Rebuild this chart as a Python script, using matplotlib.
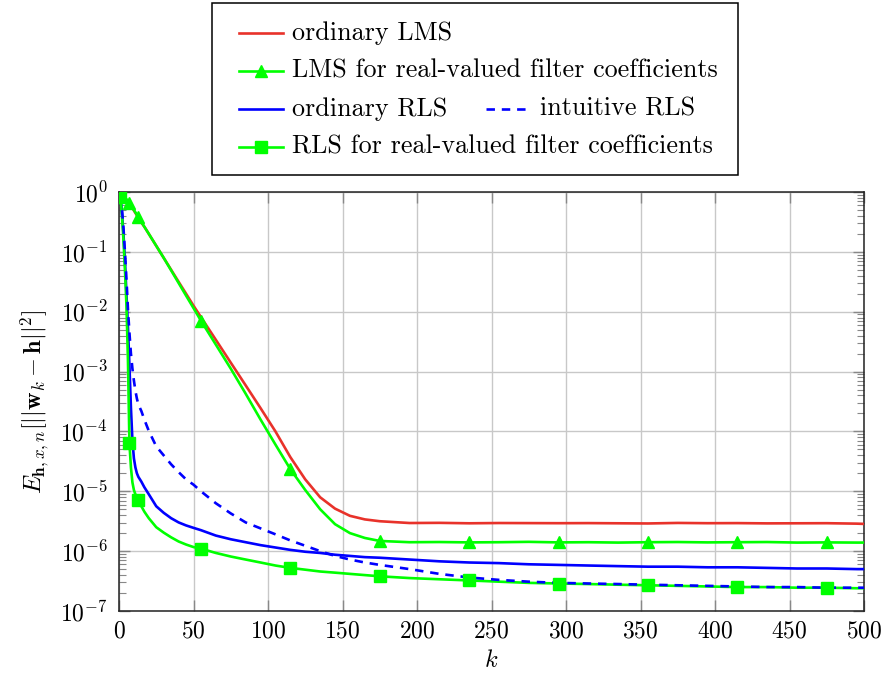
import matplotlib
matplotlib.use("Agg")
import matplotlib.pyplot as plt
from matplotlib.lines import Line2D
from matplotlib.patches import Rectangle
from matplotlib.ticker import LogLocator, NullFormatter, FixedLocator

plt.rcParams['font.family'] = 'serif'
plt.rcParams['font.serif'] = ['cmr10']
plt.rcParams['mathtext.fontset'] = 'cm'
plt.rcParams['axes.formatter.use_mathtext'] = True
plt.rcParams['axes.unicode_minus'] = False

# ---- data ----
k = [1, 2, 3, 4, 5, 6, 7, 8, 9, 10, 11, 12, 13,
     15, 17, 20, 25, 30, 35, 40, 45, 50,
     55, 65, 75, 85, 95, 105, 115, 125, 135, 145, 155, 165, 175,
     195, 215, 235, 255, 275, 295, 315, 335, 355, 375, 395, 415, 435, 455, 475, 495, 500]

lms = [0.977, 0.912, 0.832, 0.776, 0.724, 0.676, 0.631, 0.575, 0.537, 0.490, 0.447, 0.407, 0.372,
       0.309, 0.263, 0.200, 0.126, 0.0794, 0.0501, 0.0316, 0.0200, 0.0126,
       8.13e-3, 3.39e-3, 1.41e-3, 5.89e-4, 2.45e-4, 1.0e-4, 3.72e-5, 1.58e-5, 7.94e-6, 5.13e-6,
       3.89e-6, 3.39e-6, 3.16e-6,
       2.95e-6, 2.97e-6, 2.92e-6, 2.95e-6, 2.94e-6, 2.93e-6, 2.94e-6, 2.92e-6, 2.90e-6, 2.96e-6,
       2.93e-6, 2.94e-6, 2.91e-6, 2.92e-6, 2.93e-6, 2.88e-6, 2.85e-6]

lms_real = [1.0, 0.933, 0.871, 0.813, 0.759, 0.708, 0.661, 0.603, 0.550, 0.501, 0.457, 0.417, 0.380,
            0.316, 0.263, 0.200, 0.126, 0.0794, 0.0490, 0.0302, 0.0186, 0.0115,
            7.08e-3, 2.82e-3, 1.12e-3, 4.27e-4, 1.58e-4, 6.03e-5, 2.34e-5, 1.05e-5, 5.01e-6, 2.82e-6,
            2.0e-6, 1.66e-6, 1.48e-6,
            1.41e-6, 1.42e-6, 1.40e-6, 1.41e-6, 1.43e-6, 1.40e-6, 1.41e-6, 1.39e-6, 1.41e-6, 1.42e-6,
            1.40e-6, 1.41e-6, 1.42e-6, 1.39e-6, 1.40e-6, 1.39e-6, 1.39e-6]

rls = [0.891, 0.447, 0.200, 0.0708, 0.0200, 5.62e-3, 1.26e-3, 2.51e-4, 7.08e-5, 3.55e-5, 2.51e-5, 2.0e-5, 1.74e-5,
       1.45e-5, 1.17e-5, 8.91e-6, 5.62e-6, 4.37e-6, 3.55e-6, 3.02e-6, 2.69e-6, 2.45e-6,
       2.24e-6, 1.82e-6, 1.58e-6, 1.41e-6, 1.26e-6, 1.15e-6, 1.05e-6, 9.77e-7, 9.33e-7, 8.71e-7,
       8.32e-7, 7.94e-7, 7.76e-7,
       7.24e-7, 6.76e-7, 6.46e-7, 6.31e-7, 6.03e-7, 5.89e-7, 5.75e-7, 5.62e-7, 5.50e-7, 5.50e-7,
       5.37e-7, 5.37e-7, 5.25e-7, 5.13e-7, 5.13e-7, 5.01e-7, 5.01e-7]

rls_intuitive = [0.891, 0.501, 0.251, 0.1, 0.0355, 0.0112, 4.47e-3, 2.0e-3, 1.12e-3, 7.08e-4, 4.79e-4, 3.55e-4, 2.82e-4,
                 2.19e-4, 1.58e-4, 1.02e-4, 5.62e-5, 3.98e-5, 2.82e-5, 2.09e-5, 1.58e-5, 1.29e-5,
                 1.0e-5, 6.31e-6, 4.27e-6, 3.02e-6, 2.40e-6, 1.91e-6, 1.51e-6, 1.23e-6, 1.0e-6, 8.32e-7,
                 7.24e-7, 6.46e-7, 5.89e-7,
                 5.01e-7, 4.17e-7, 3.63e-7, 3.31e-7, 3.09e-7, 2.95e-7, 2.88e-7, 2.82e-7, 2.75e-7, 2.69e-7,
                 2.63e-7, 2.57e-7, 2.51e-7, 2.51e-7, 2.45e-7, 2.45e-7, 2.45e-7]

rls_real = [0.832, 0.398, 0.158, 0.0501, 0.0126, 1.58e-3, 6.31e-5, 2.51e-5, 1.41e-5, 1.05e-5, 8.91e-6, 7.94e-6, 7.08e-6,
            5.62e-6, 4.57e-6, 3.55e-6, 2.51e-6, 2.04e-6, 1.70e-6, 1.45e-6, 1.29e-6, 1.17e-6,
            1.10e-6, 9.33e-7, 8.13e-7, 7.24e-7, 6.46e-7, 5.75e-7, 5.25e-7, 4.90e-7, 4.57e-7, 4.37e-7,
            4.17e-7, 3.98e-7, 3.80e-7,
            3.55e-7, 3.39e-7, 3.24e-7, 3.09e-7, 2.95e-7, 2.88e-7, 2.82e-7, 2.75e-7, 2.69e-7, 2.63e-7,
            2.57e-7, 2.51e-7, 2.51e-7, 2.45e-7, 2.45e-7, 2.40e-7, 2.40e-7]

marker_k = [1, 7, 13, 55, 115, 175, 235, 295, 355, 415, 475]

labels = ["ordinary LMS", "LMS for real-valued filter coefficients",
          "ordinary RLS", "intuitive RLS", "RLS for real-valued filter coefficients"]
xticks = [0, 50, 100, 150, 200, 250, 300, 350, 400, 450, 500]
yticks = [1e-7, 1e-6, 1e-5, 1e-4, 1e-3, 1e-2, 1e-1, 1e0]

RED = '#e8322a'
GREEN = '#00ff00'
BLUE = '#0000ff'
LW = 1.9
DASH = (0, (3.2, 2.6))

fig = plt.figure(figsize=(8.82, 6.79), dpi=100)
ax = fig.add_axes([119/882, 1-611/679, (864-119)/882, (611-192)/679])

idx = [k.index(v) for v in marker_k]

ax.plot(k, lms, color=RED, lw=LW, zorder=3)
ax.plot(k, lms_real, color=GREEN, lw=LW, zorder=3)
ax.plot(k, rls, color=BLUE, lw=LW, zorder=3)
ax.plot(k, rls_real, color=GREEN, lw=LW, zorder=3)
ax.plot(k, rls_intuitive, color=BLUE, lw=LW, ls=DASH, zorder=3)
ax.plot([k[i] for i in idx], [lms_real[i] for i in idx], ls='none', marker='^',
        ms=9, color=GREEN, mec=GREEN, zorder=4)
ax.plot([k[i] for i in idx], [rls_real[i] for i in idx], ls='none', marker='s',
        ms=9, color=GREEN, mec=GREEN, zorder=4)

ax.set_yscale('log')
ax.set_ylim(1e-7, 1)
ax.set_xlim(0, 500)
ax.set_xticks(xticks)
ax.yaxis.set_major_locator(FixedLocator(yticks))
ax.yaxis.set_minor_locator(LogLocator(base=10, subs=range(2, 10), numticks=100))
ax.yaxis.set_minor_formatter(NullFormatter())
ax.grid(True, which='major', color='#c8c8c8', lw=1.0, zorder=0)
ax.tick_params(which='both', direction='in', top=True, right=True, labelsize=17,
               color='#888888')
ax.tick_params(which='major', length=8, width=1)
ax.tick_params(which='minor', length=5, width=0.8)
ax.tick_params(axis='y', which='major', pad=8)
ax.tick_params(axis='x', which='major', pad=7)
for s in ax.spines.values():
    s.set_color('#222222')
    s.set_linewidth(1.1)

ax.set_xlabel(r'$k$', fontsize=17.5, labelpad=5)
ax.set_ylabel(r'$E_{\mathbf{h},x,n}[||\mathbf{w}_k-\mathbf{h}||^2]$', fontsize=17.5, labelpad=6)

# ---- legend drawn manually (row 3 holds two entries) ----
W, H = 882, 679
def fx(px):
    return px / W
def fy(py):
    return 1 - py / H

fig.add_artist(Rectangle((fx(212), fy(175)), (738-212)/W, (175-3)/H, transform=fig.transFigure,
                         facecolor='white', edgecolor='black', lw=1.1, zorder=5))

def sample(x0, x1, y, color, ls='-', marker=None):
    fig.add_artist(Line2D([fx(x0), fx(x1)], [fy(y), fy(y)], transform=fig.transFigure,
                          color=color, lw=LW, ls=ls, zorder=6))
    if marker:
        fig.add_artist(Line2D([fx((x0+x1)/2)], [fy(y)], transform=fig.transFigure,
                              color=color, marker=marker, ms=9, ls='none', zorder=6))

rows = [33, 71, 109, 147]
sample(239, 283, rows[0], RED)
sample(239, 283, rows[1], GREEN, marker='^')
sample(239, 283, rows[2], BLUE)
sample(486, 526, rows[2], BLUE, ls=DASH)
sample(239, 283, rows[3], GREEN, marker='s')

tx = 292
fs = 18.8
fig.text(fx(tx), fy(rows[0]), labels[0], fontsize=fs, va='center', ha='left', zorder=7)
fig.text(fx(tx), fy(rows[1]), labels[1], fontsize=fs, va='center', ha='left', zorder=7)
fig.text(fx(tx), fy(rows[2]), labels[2], fontsize=fs, va='center', ha='left', zorder=7)
fig.text(fx(540), fy(rows[2]), labels[3], fontsize=fs, va='center', ha='left', zorder=7)
fig.text(fx(tx), fy(rows[3]), labels[4], fontsize=fs, va='center', ha='left', zorder=7)

fig.savefig('out.png', dpi=100)
